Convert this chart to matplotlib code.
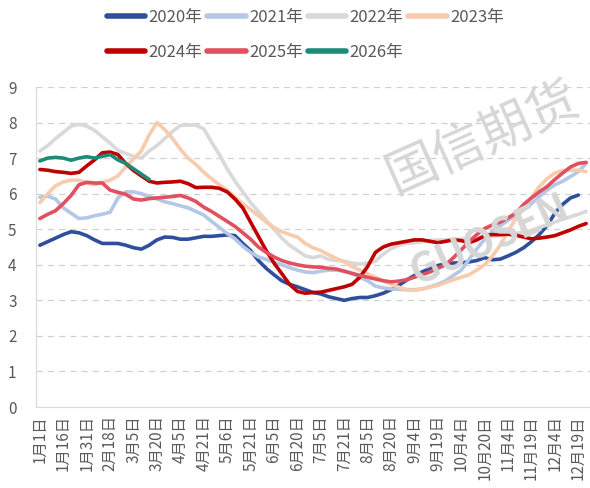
import numpy as np
import matplotlib
matplotlib.use("Agg")
import matplotlib.pyplot as plt

plt.rcParams['font.family'] = ['Noto Sans CJK SC', 'DejaVu Sans']

nan = np.nan

# x-axis tick labels (one label every 3 data points)
tick_labels = ["1月1日", "1月16日", "1月31日", "2月18日", "3月5日", "3月20日",
               "4月5日", "4月21日", "5月6日", "5月21日", "6月5日", "6月20日",
               "7月5日", "7月21日", "8月5日", "8月20日", "9月4日", "9月19日",
               "10月4日", "10月20日", "11月4日", "11月19日", "12月4日", "12月19日"]

y2020 = [4.55, 4.65, 4.75, 4.85, 4.93, 4.90, 4.82, 4.70, 4.60, 4.60,
         4.60, 4.55, 4.48, 4.44, 4.55, 4.70, 4.78, 4.77, 4.72, 4.72,
         4.76, 4.80, 4.80, 4.82, 4.84, 4.82, 4.60, 4.40, 4.12, 3.90,
         3.72, 3.55, 3.45, 3.38, 3.30, 3.22, 3.18, 3.10, 3.05, 3.00,
         3.05, 3.08, 3.08, 3.13, 3.20, 3.30, 3.42, 3.57, 3.70, 3.80,
         3.90, 3.98, 4.03, 4.05, 4.06, 4.08, 4.12, 4.20, 4.14, 4.16,
         4.25, 4.35, 4.48, 4.65, 4.85, 5.10, 5.45, 5.70, 5.88, 5.96, nan]

y2021 = [5.90, 5.93, 5.85, 5.60, 5.45, 5.30, 5.32, 5.38, 5.42, 5.48,
         5.88, 6.05, 6.05, 6.00, 5.92, 5.85, 5.77, 5.72, 5.66, 5.60,
         5.50, 5.40, 5.22, 5.05, 4.88, 4.73, 4.52, 4.35, 4.22, 4.15,
         4.07, 4.00, 3.92, 3.85, 3.80, 3.78, 3.82, 3.85, 3.85, 3.82,
         3.75, 3.65, 3.55, 3.40, 3.35, 3.32, 3.31, 3.30, 3.30, 3.32,
         3.38, 3.45, 3.55, 3.70, 3.85, 4.15, 4.45, 4.72, 4.95, 5.10,
         5.25, 5.38, 5.55, 5.72, 5.92, 6.10, 6.25, 6.35, 6.48, 6.62, 6.85]

y2022 = [7.20, 7.35, 7.55, 7.72, 7.90, 7.95, 7.90, 7.78, 7.60, 7.42,
         7.22, 7.13, 7.05, 7.00, 7.20, 7.35, 7.55, 7.75, 7.92, 7.93,
         7.93, 7.82, 7.45, 7.10, 6.70, 6.35, 6.05, 5.75, 5.50, 5.25,
         5.00, 4.75, 4.55, 4.40, 4.25, 4.20, 4.25, 4.15, 4.12, 4.10,
         4.05, 4.02, 4.05, 4.10, 4.30, 4.45, 4.55, 4.60, 4.62, 4.65,
         4.68, 4.70, 4.70, 4.72, 4.72, 4.73, 4.75, 4.78, 4.80, 4.82,
         4.85, 4.88, 4.92, 4.97, 5.05, 5.12, 5.20, 5.28, 5.35, 5.42, 5.50]

y2023 = [5.75, 6.00, 6.22, 6.33, 6.38, 6.38, 6.30, 6.25, 6.32, 6.38,
         6.50, 6.75, 6.98, 7.20, 7.65, 8.00, 7.80, 7.55, 7.25, 7.00,
         6.82, 6.60, 6.42, 6.25, 6.10, 5.90, 5.72, 5.55, 5.38, 5.20,
         5.05, 4.93, 4.85, 4.78, 4.60, 4.48, 4.40, 4.28, 4.18, 4.08,
         3.95, 3.85, 3.75, 3.65, 3.55, 3.45, 3.37, 3.30, 3.28, 3.32,
         3.37, 3.42, 3.50, 3.58, 3.65, 3.72, 3.85, 4.00, 4.25, 4.55,
         4.95, 5.30, 5.60, 5.90, 6.20, 6.42, 6.58, 6.65, 6.66, 6.66, 6.62]

y2024 = [6.68, 6.66, 6.62, 6.60, 6.57, 6.60, 6.78, 6.95, 7.15, 7.17,
         7.10, 6.85, 6.65, 6.50, 6.35, 6.30, 6.32, 6.33, 6.35, 6.28,
         6.17, 6.18, 6.18, 6.15, 6.05, 5.85, 5.60, 5.20, 4.80, 4.40,
         4.05, 3.75, 3.45, 3.25, 3.20, 3.22, 3.23, 3.28, 3.33, 3.38,
         3.45, 3.65, 3.95, 4.35, 4.50, 4.58, 4.62, 4.66, 4.70, 4.70,
         4.66, 4.62, 4.66, 4.70, 4.68, 4.62, 4.70, 4.82, 4.85, 4.85,
         4.86, 4.83, 4.78, 4.73, 4.75, 4.78, 4.82, 4.90, 4.98, 5.08, 5.16]

y2025 = [5.30, 5.42, 5.52, 5.72, 5.95, 6.25, 6.32, 6.30, 6.30, 6.10,
         6.04, 5.98, 5.85, 5.82, 5.86, 5.88, 5.90, 5.92, 5.95, 5.88,
         5.78, 5.62, 5.50, 5.36, 5.22, 5.08, 4.90, 4.72, 4.50, 4.35,
         4.22, 4.12, 4.05, 4.00, 3.96, 3.94, 3.93, 3.90, 3.88, 3.82,
         3.76, 3.70, 3.65, 3.60, 3.55, 3.52, 3.54, 3.58, 3.65, 3.72,
         3.80, 3.90, 4.00, 4.20, 4.42, 4.65, 4.85, 5.02, 5.12, 5.20,
         5.32, 5.45, 5.70, 5.88, 6.05, 6.20, 6.40, 6.58, 6.75, 6.85, 6.88]

y2026 = [6.92, 7.00, 7.02, 7.00, 6.94, 7.00, 7.04, 7.00, 7.05, 7.10,
         6.95, 6.85, 6.70, 6.55, 6.40]

series = [
    ("2020年", y2020, "#2F4E9C"),
    ("2021年", y2021, "#B4C7E7"),
    ("2022年", y2022, "#D9D9D9"),
    ("2023年", y2023, "#F8CBAD"),
    ("2024年", y2024, "#C00000"),
    ("2025年", y2025, "#E0505E"),
    ("2026年", y2026, "#1F8A78"),
]

fig = plt.figure(figsize=(5.9, 4.88), dpi=100)
ax = fig.add_axes([36 / 590, 1 - 407 / 488, 1 - 36 / 590, (407 - 87) / 488])

# faint watermark, as in the source image (kept inside the canvas)
wm = "#D6D6D6"
fig.text(378 / 590, 1 - 192 / 488, "国信期货", fontsize=37, color=wm,
         rotation=24, ha="left", va="baseline", zorder=0)
fig.text(405 / 590, 1 - 285 / 488, "GUOSEN", fontsize=29, color=wm,
         rotation=24, ha="left", va="baseline", zorder=0, fontweight="bold")
ax.set_facecolor("none")

handles = {}
for name, vals, color in series:
    x = np.arange(len(vals))
    ln, = ax.plot(x, vals, color=color, lw=2.6, label=name,
                  solid_capstyle="round", solid_joinstyle="round")
    handles[name] = ln

ax.set_xlim(-0.5, 70.5)
ax.set_ylim(0, 9)
ax.set_yticks(range(0, 10))
ax.set_xticks(range(0, 3 * len(tick_labels), 3))
ax.set_xticklabels(tick_labels, rotation=90)
ax.tick_params(axis="both", length=0, colors="#595959", labelsize=11)
ax.tick_params(axis="x", pad=6)
ax.tick_params(axis="y", pad=14)

for yv in range(1, 10):
    ax.axhline(yv, color="#D0D0D0", lw=0.9, ls=(0, (5, 4)), zorder=0)

for side in ["top", "right"]:
    ax.spines[side].set_visible(False)
ax.spines["left"].set_color("#D9D9D9")
ax.spines["bottom"].set_color("#D9D9D9")

# legend fills column by column, so order the entries to read row by row
order = ["2020年", "2024年", "2021年", "2025年", "2022年", "2026年", "2023年"]
leg = fig.legend([handles[k] for k in order], order,
                 loc="upper left", bbox_to_anchor=(100 / 590, 1 - 2 / 488),
                 ncol=4, frameon=False, fontsize=12, handlelength=2.3,
                 handletextpad=0.2, columnspacing=0.3, labelspacing=1.1,
                 borderaxespad=0)
for line in leg.get_lines():
    line.set_linewidth(4)
for t in leg.get_texts():
    t.set_color("#595959")

fig.savefig("out.png", dpi=100)
